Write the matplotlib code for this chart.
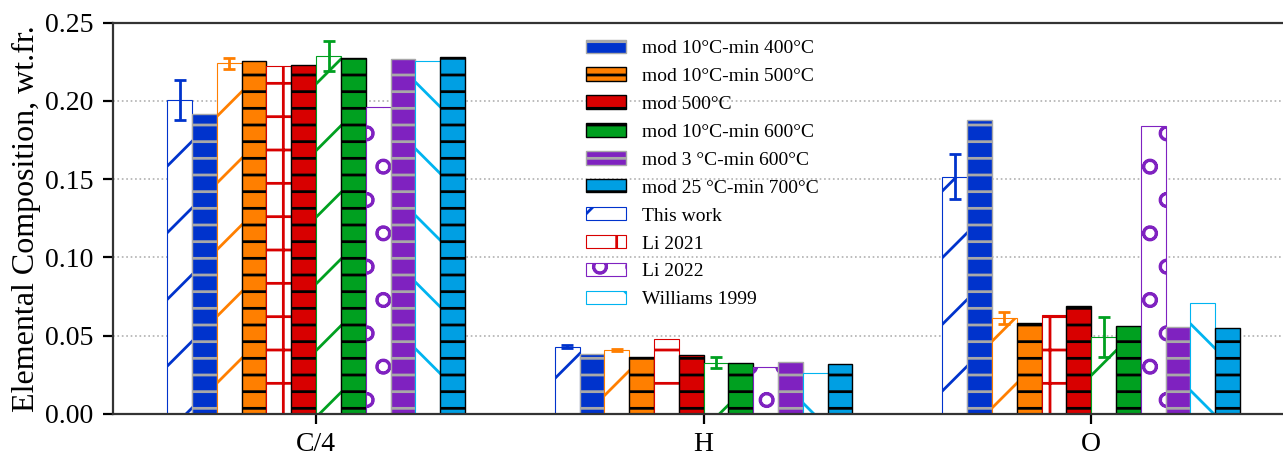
import matplotlib
matplotlib.use("Agg")
import matplotlib.pyplot as plt
import numpy as np


plt.rcParams["font.family"] = ["Liberation Serif", "DejaVu Serif"]
plt.rcParams["font.size"] = 10
plt.rcParams["hatch.linewidth"] = 1.0

GROUPS = ["C/4", "H", "O"]

# experimental / literature series (outlined, hatched)
EXP_400 = [0.2006, 0.0430, 0.1517]
EXP_400_ERR = [0.0125, 0.0010, 0.0142]
EXP_500 = [0.2240, 0.0409, 0.0612]
EXP_500_ERR = [0.0034, 0.0008, 0.0037]
EXP_600 = [0.2287, 0.0328, 0.0492]
EXP_600_ERR = [0.0096, 0.0035, 0.0130]
LI_2021 = [0.2221, 0.0477, 0.0633]
LI_2022 = [0.1963, 0.0300, 0.1837]
WILLIAMS_1999 = [0.2253, 0.0260, 0.0712]

# model series (filled, striped)
MOD_10_400 = [0.1918, 0.0386, 0.1880]
MOD_10_500 = [0.2257, 0.0364, 0.0580]
MOD_500 = [0.2229, 0.0375, 0.0689]
MOD_10_600 = [0.2274, 0.0324, 0.0561]
MOD_3_600 = [0.2268, 0.0332, 0.0558]
MOD_25_700 = [0.2278, 0.0322, 0.0552]

BLUE = "#0033cc"
ORANGE = "#ff7f00"
RED = "#d80000"
GREEN = "#00a020"
PURPLE = "#7f22c0"
CYAN = "#009fe3"
CYAN_LIGHT = "#00b4f0"

BAR_WIDTH = 0.064


def bar_specs():
    # (values, errors, label, face, edge, hatch, legend)
    return [
        (EXP_400, EXP_400_ERR, "This work", "white", BLUE, "/", True),
        (MOD_10_400, None, "mod 10°C-min 400°C", BLUE, "#a8a8a8", "--", True),
        (EXP_500, EXP_500_ERR, "_exp500", "white", ORANGE, "/", False),
        (MOD_10_500, None, "mod 10°C-min 500°C", ORANGE, "black", "--", True),
        (LI_2021, None, "Li 2021", "white", RED, "+", True),
        (MOD_500, None, "mod 500°C", RED, "black", "--", True),
        (EXP_600, EXP_600_ERR, "_exp600", "white", GREEN, "/", False),
        (MOD_10_600, None, "mod 10°C-min 600°C", GREEN, "black", "--", True),
        (LI_2022, None, "Li 2022", "white", PURPLE, "o", True),
        (MOD_3_600, None, "mod 3 °C-min 600°C", PURPLE, "#a8a8a8", "--", True),
        (WILLIAMS_1999, None, "Williams 1999", "white", CYAN_LIGHT, "\\", True),
        (MOD_25_700, None, "mod 25 °C-min 700°C", CYAN, "black", "--", True),
    ]


def main():
    fig = plt.figure(figsize=(12.83 / 2, 4.58 / 2), dpi=200)
    ax = fig.add_axes([0.0881, 0.0961, 0.9119, 0.8543])

    x = np.arange(len(GROUPS))
    specs = bar_specs()
    n = len(specs)
    handles = {}

    for i, (vals, err, label, face, edge, hatch, show) in enumerate(specs):
        pos = x + (i - (n - 1) / 2) * BAR_WIDTH
        lw = 0.4 if face == "white" else 0.5
        bars = ax.bar(pos, vals, width=BAR_WIDTH, color=face, edgecolor=edge,
                      hatch=hatch, linewidth=lw, label=label, zorder=2)
        if show:
            handles[label] = bars
        if err is not None:
            ax.errorbar(pos, vals, yerr=err, fmt="none", ecolor=edge,
                        elinewidth=1.0, capsize=2.2, capthick=1.0, zorder=3)

    order = [
        "mod 10°C-min 400°C",
        "mod 10°C-min 500°C",
        "mod 500°C",
        "mod 10°C-min 600°C",
        "mod 3 °C-min 600°C",
        "mod 25 °C-min 700°C",
        "This work",
        "Li 2021",
        "Li 2022",
        "Williams 1999",
    ]
    ax.legend([handles[k] for k in order], order, frameon=False,
              loc="upper left", bbox_to_anchor=(0.404, 0.957),
              handlelength=2.06, handleheight=0.67, labelspacing=0.54,
              handletextpad=0.82, borderaxespad=0, borderpad=0, fontsize=7)

    ax.set_xlim(-0.524, 2.495)
    ax.set_ylim(0, 0.25)
    ax.set_yticks(np.arange(0, 0.2501, 0.05))
    ax.set_yticklabels([f"{v:.2f}" for v in np.arange(0, 0.2501, 0.05)])
    ax.set_xticks(x)
    ax.set_xticklabels(GROUPS)
    ax.set_ylabel("Elemental Composition, wt.fr.", fontsize=11.5, labelpad=1.5)

    ax.yaxis.grid(True, linestyle=":", color="#b0b0b0", linewidth=0.6)
    ax.set_axisbelow(True)
    ax.spines["right"].set_visible(False)
    for side in ["left", "top", "bottom"]:
        ax.spines[side].set_linewidth(0.8)
        ax.spines[side].set_color("#333333")
    ax.tick_params(direction="out", length=3.5, width=0.8, labelsize=10)
    ax.tick_params(axis="x", pad=3)

    fig.savefig("out.png", dpi=200)
    plt.close(fig)


if __name__ == "__main__":
    main()
